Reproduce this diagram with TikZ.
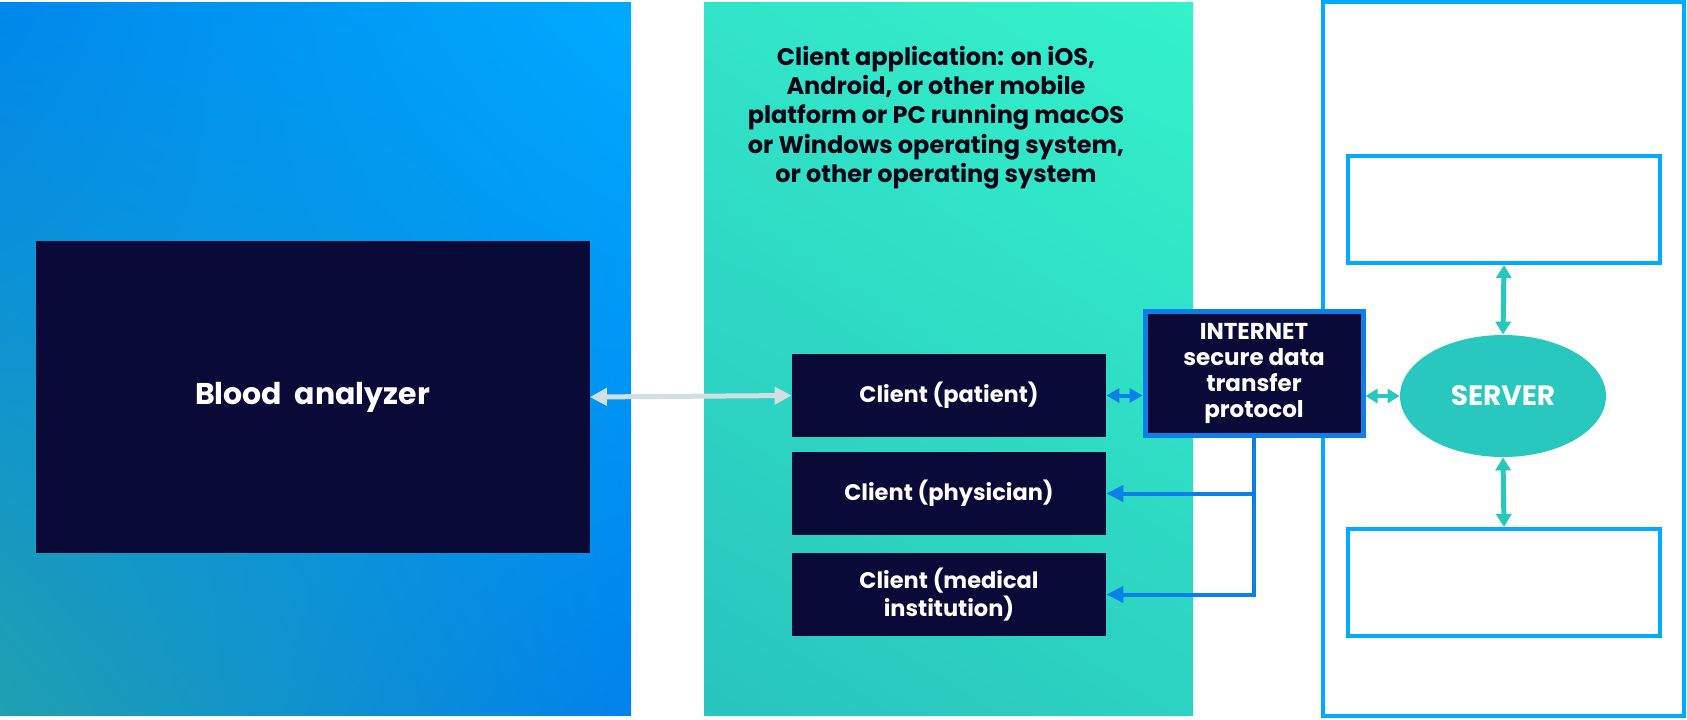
\documentclass[tikz,border=0pt]{standalone}
\usepackage{fontspec}
\setmainfont{Poppins}
\usetikzlibrary{arrows.meta,shapes.geometric,shadings}
\definecolor{navy}{RGB}{10,10,56}
\definecolor{netblue}{RGB}{10,128,232}
\definecolor{skyblue}{RGB}{0,170,255}
\definecolor{teal}{RGB}{40,200,190}
\definecolor{linkgrey}{RGB}{208,223,227}
\definecolor{blueUL}{RGB}{0,136,236}
\definecolor{blueLL}{RGB}{32,160,176}
\definecolor{blueLR}{RGB}{0,130,236}
\definecolor{tealUL}{RGB}{50,228,200}
\definecolor{tealUR}{RGB}{52,242,202}
\definecolor{tealLL}{RGB}{40,196,190}
\definecolor{tealLR}{RGB}{44,210,194}
\begin{document}
\begin{tikzpicture}[x=0.5pt,y=-0.5pt,
    every node/.style={font=\bfseries},
    darkbox/.style={rectangle,fill=navy,text=white,inner sep=0pt,align=center},
    clientbox/.style={darkbox,minimum width=157pt,minimum height=41.5pt,font=\bfseries\fontsize{11.25}{12.5}\selectfont},
    framebox/.style={rectangle,draw=skyblue,line width=2pt,inner sep=0pt},
    link/.style={line width=#1,{Triangle[length=8.5pt,width=8.5pt]}-{Triangle[length=8.5pt,width=8.5pt]}},
    oneway/.style={line width=2pt,-{Triangle[length=8.5pt,width=8pt]}}]
    \useasboundingbox (0,0) rectangle (1687,719);
    % panels
    \shade[upper left=blueUL,upper right=skyblue,lower left=blueLL,lower right=blueLR]
        (0,2) rectangle (631,715);
    \shade[upper left=tealUL,upper right=tealUR,lower left=tealLL,lower right=tealLR]
        (704,2) rectangle (1193,715);
    \draw[skyblue,line width=2pt] (1323,2) rectangle (1684,716);
    % nodes
    \node[darkbox,minimum width=277pt,minimum height=156pt,font=\bfseries\fontsize{15}{18}\selectfont] (analyzer) at (312.5,397) {Blood\ \ analyzer};
    \node[align=center,text=navy!40!black,font=\bfseries\fontsize{12}{14.7}\selectfont] (title) at (936,117.5)
        {Client application: on iOS,\\Android, or other mobile\\platform or PC running macOS\\or Windows operating system,\\or other operating system};
    \node[clientbox] (patient) at (949,395.5) {Client (patient)};
    \node[clientbox] (physician) at (949,493.5) {Client (physician)};
    \node[clientbox] (medical) at (949,594.5) {Client (medical\\institution)};
    \node[darkbox,draw=netblue,line width=2.5pt,minimum width=109pt,minimum height=62pt,font=\bfseries\fontsize{11.5}{13}\selectfont] (internet) at (1254,373.5) {INTERNET\\secure data\\transfer\\protocol};
    \node[framebox,minimum width=156pt,minimum height=53.5pt] (upper) at (1504,209.5) {};
    \node[framebox,minimum width=156pt,minimum height=53.5pt] (lower) at (1504,582.5) {};
    \node[ellipse,fill=teal,text=white,inner sep=0pt,minimum width=103pt,minimum height=61pt,font=\bfseries\fontsize{14}{16}\selectfont] (server) at (1503,396) {SERVER};
    % connectors
    \draw[link=2.5pt,linkgrey] (analyzer.east) -- (patient.west);
    \draw[link=2pt,netblue,{Triangle[length=6.5pt,width=7pt]}-{Triangle[length=6.5pt,width=7pt]}] (patient.east) -- (patient.east -| internet.west);
    \draw[link=2pt,teal,{Triangle[length=6pt,width=7pt]}-{Triangle[length=6pt,width=7pt]}] (server.west -| internet.east) -- (server.west);
    \draw[link=2.5pt,teal,{Triangle[length=6.5pt,width=7.5pt]}-{Triangle[length=6.5pt,width=7.5pt]}] (server.north) -- (upper.south);
    \draw[link=2.5pt,teal,{Triangle[length=6.5pt,width=7.5pt]}-{Triangle[length=6.5pt,width=7.5pt]}] (server.south) -- (lower.north);
    \draw[oneway,netblue] (internet.south) |- (medical.east);
    \draw[oneway,netblue] (internet.south |- physician.east) -- (physician.east);
\end{tikzpicture}
\end{document}
